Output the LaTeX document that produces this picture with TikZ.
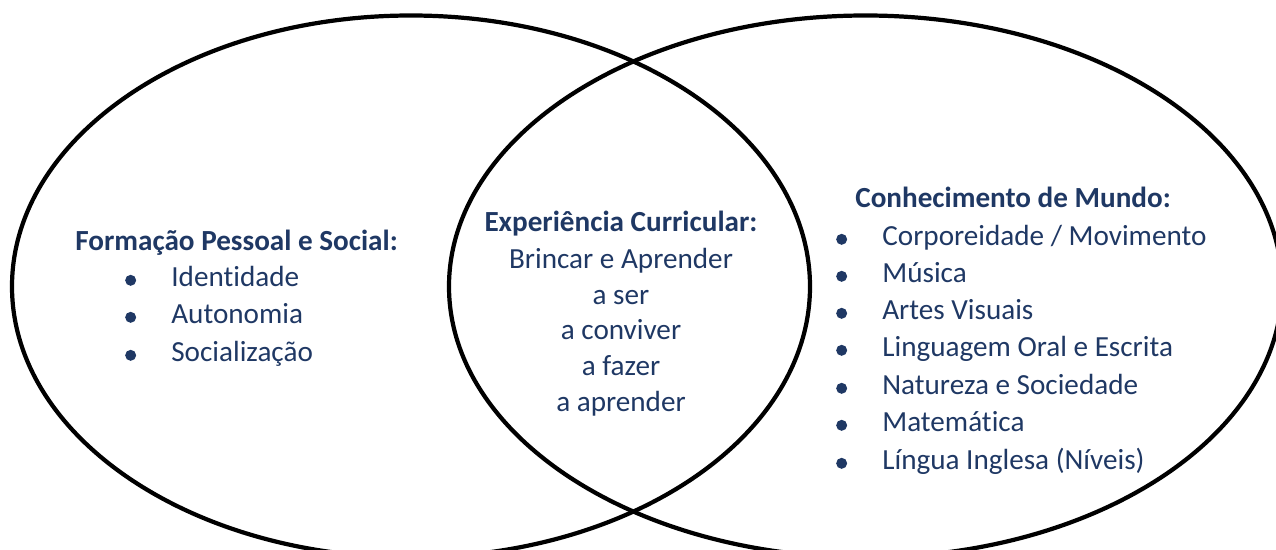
\documentclass[tikz,border=0pt]{standalone}
\usepackage{fontspec}
\setmainfont{Carlito}[Ligatures=NoCommon]
\definecolor{txtblue}{HTML}{1F3864}
\begin{document}
\begin{tikzpicture}
    [
        x=0.02cm, y=-0.02cm,
        ring/.style={draw=black, line width=2.4pt},
        txt/.style={inner sep=0pt, anchor=base west, text=txtblue, font=\fontsize{16.6}{20}\selectfont},
        head/.style={txt, font=\fontsize{16.6}{20}\selectfont\bfseries},
        mid/.style={txt, anchor=base},
        bul/.style={circle, fill=txtblue, inner sep=0pt, minimum size=0.22cm, xshift=-0.69cm},
        item/.style={txt, text height=11.6pt, text depth=4pt, label={[bul]west:{}}},
    ]
    \useasboundingbox (0,0) rectangle (1276,550);

    % circles
    \draw[ring] (411,286.5) ellipse [x radius=399, y radius=271];
    \draw[ring] (865.5,286.5) ellipse [x radius=416.5, y radius=271];

    % left
    \node (fps) at (75,251) [head] {Formação Pessoal e Social:};
    \node (ide) at (171,287) [item] {Identidade};
    \node (aut) at (171,324) [item] {Autonomia};
    \node (soc) at (171,362) [item] {Socialização};

    % middle
    \node (exp) at (621,232) [mid, font=\fontsize{16.6}{20}\selectfont\bfseries] {Experiência Curricular:};
    \node (bri) at (621,269) [mid] {Brincar e Aprender};
    \node (ser) at (621,305) [mid] {a ser};
    \node (con) at (621,340) [mid] {a conviver};
    \node (faz) at (621,376) [mid] {a fazer};
    \node (apr) at (621,412) [mid] {a aprender};

    % right
    \node (cdm) at (855,208) [head] {Conhecimento de Mundo:};
    \node (cor) at (882,246) [item] {Corporeidade / Movimento};
    \node (mus) at (882,283) [item] {Música};
    \node (art) at (882,320) [item] {Artes Visuais};
    \node (lin) at (882,357) [item] {Linguagem Oral e Escrita};
    \node (nat) at (882,395) [item] {Natureza e Sociedade};
    \node (mat) at (882,432) [item] {Matemática};
    \node (lng) at (882,470) [item] {Língua Inglesa (Níveis)};

\end{tikzpicture}
\end{document}
